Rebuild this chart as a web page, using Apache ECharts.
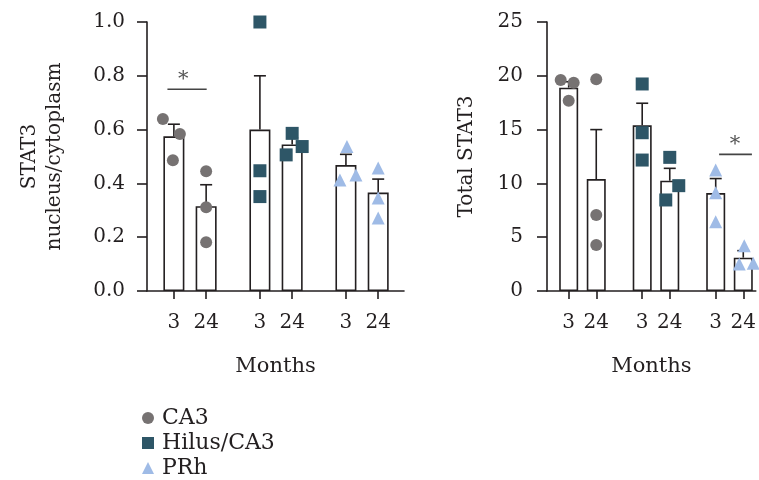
<!DOCTYPE html>
<html>
<head>
<meta charset="utf-8">
<script src="https://cdn.jsdelivr.net/npm/echarts@6/dist/echarts.min.js"></script>
<style>
html, body { margin: 0; padding: 0; background: #fff; }
#chart { width: 759px; height: 480px; }
</style>
</head>
<body>
<div id="chart"></div>
<script>
const groups = ['CA3', 'Hilus/CA3', 'PRh'];
const months = ['3', '24'];

// bar order: CA3 3, CA3 24, Hilus 3, Hilus 24, PRh 3, PRh 24
const ratioMean = [0.575, 0.315, 0.60, 0.545, 0.468, 0.366];
const ratioSem = [0.045, 0.08, 0.20, 0.025, 0.04, 0.05];
const ratioPoints = [
	[0.639, 0.584, 0.486],
	[0.445, 0.311, 0.181],
	[1.0, 0.447, 0.351],
	[0.586, 0.506, 0.537],
	[0.537, 0.413, 0.431],
	[0.457, 0.346, 0.271],
];

const totalMean = [18.9, 10.4, 15.4, 10.25, 9.1, 3.1];
const totalSem = [0.55, 4.6, 2.05, 1.15, 1.35, 0.65];
const totalPoints = [
	[19.61, 19.36, 17.69],
	[19.67, 7.06, 4.27],
	[19.24, 14.71, 12.17],
	[12.42, 8.46, 9.79],
	[11.25, 9.14, 6.44],
	[4.21, 2.51, 2.57],
];

// significance bracket: x range (axis units), line level, star position
const ratioSig = { x: [-0.6, 3.05], y: 0.75, star: [0.87, 0.80] };
const totalSig = { x: [16.37, 19.94], y: 12.7, star: [18.1, 14.0] };

// point spread around bar centre, px
const ratioJitter = [[-11, 6, -1], [0, 0, 0], [0, 0, 0], [0, -6, 10], [1, -6, 10], [0, 0, 0]];
const totalJitter = [[-8, 5, 0], [0, 0, 0], [0, 0, 0], [0, -4, 9], [0, 0, 0], [1, -4, 10]];

const INK = '#231f20';
const FONT = 'DejaVu Serif';
const colors = ['#767272', '#2e5667', '#9fbbe6'];
const symbols = ['circle', 'rect', 'triangle'];
const symbolSizes = [12, 13, 13];

const barPos = [0, 1, 2, 3, 4, 5].map((i) => Math.floor(i / 2) * 8 + (i % 2) * 3);

function monthLabel(v) {
	const i = barPos.findIndex((p) => Math.abs(p - v) < 1e-6);
	return i < 0 ? '' : months[i % 2];
}

function errorBarItem(params, api) {
	const a = api.coord([api.value(0), api.value(1)]);
	const b = api.coord([api.value(0), api.value(2)]);
	const style = { stroke: INK, lineWidth: 1.6, fill: null };
	return {
		type: 'group',
		children: [
			{ type: 'line', shape: { x1: a[0], y1: a[1], x2: b[0], y2: b[1] }, style },
			{ type: 'line', shape: { x1: b[0] - 6, y1: b[1], x2: b[0] + 6, y2: b[1] }, style },
		],
	};
}

function sigItem(params, api) {
	const p1 = api.coord([api.value(0), api.value(2)]);
	const p2 = api.coord([api.value(1), api.value(2)]);
	const s = api.coord([api.value(3), api.value(4)]);
	return {
		type: 'group',
		children: [
			{ type: 'line', shape: { x1: p1[0], y1: p1[1], x2: p2[0], y2: p2[1] }, style: { stroke: '#444', lineWidth: 1.6 } },
			{ type: 'text', x: s[0], y: s[1] + 4, style: { text: '*', font: '21px ' + FONT, fill: '#555', align: 'center', verticalAlign: 'middle' } },
		],
	};
}

function panelSeries(idx, mean, sem, points, jitter, sig, barWidth) {
	const out = [];
	out.push({
		type: 'bar',
		xAxisIndex: idx,
		yAxisIndex: idx,
		barWidth,
		data: mean.map((m, i) => [barPos[i], m]),
		itemStyle: { color: '#fff', borderColor: INK, borderWidth: 1.6 },
		z: 2,
		silent: true,
	});
	out.push({
		type: 'custom',
		xAxisIndex: idx,
		yAxisIndex: idx,
		renderItem: errorBarItem,
		data: mean.map((m, i) => [barPos[i], m, m + sem[i]]),
		z: 3,
		silent: true,
	});
	groups.forEach((g, gi) => {
		const data = [];
		for (let m = 0; m < 2; m++) {
			const i = gi * 2 + m;
			points[i].forEach((v, k) => {
				data.push({ value: [barPos[i], v], symbolOffset: [jitter[i][k], 0] });
			});
		}
		out.push({
			type: 'scatter',
			name: g,
			xAxisIndex: idx,
			yAxisIndex: idx,
			symbol: symbols[gi],
			symbolSize: symbolSizes[gi],
			itemStyle: { color: colors[gi], opacity: 1 },
			data,
			z: 4,
			silent: true,
		});
	});
	out.push({
		type: 'custom',
		xAxisIndex: idx,
		yAxisIndex: idx,
		renderItem: sigItem,
		data: [[sig.x[0], sig.x[1], sig.y, sig.star[0], sig.star[1]]],
		z: 5,
		silent: true,
	});
	return out;
}

function xAxisFor(idx, min, max) {
	return {
		gridIndex: idx,
		type: 'value',
		min,
		max,
		name: 'Months',
		nameLocation: 'middle',
		nameGap: 65,
		nameTextStyle: { color: INK, fontFamily: FONT, fontSize: 21 },
		splitLine: { show: false },
		axisLine: { show: true, onZero: false, lineStyle: { color: INK, width: 1.6 } },
		axisTick: { show: true, length: 8, customValues: barPos, lineStyle: { color: INK, width: 1.6 } },
		axisLabel: { customValues: barPos, formatter: monthLabel, color: INK, fontFamily: FONT, fontSize: 20, margin: 22 },
	};
}

function yAxisFor(idx, max, interval, name, nameGap, fmt, margin) {
	return {
		gridIndex: idx,
		type: 'value',
		min: 0,
		max,
		interval,
		name,
		nameLocation: 'middle',
		nameGap,
		nameRotate: 90,
		nameTextStyle: { color: INK, fontFamily: FONT, fontSize: 20, lineHeight: 25 },
		splitLine: { show: false },
		axisLine: { show: true, onZero: false, lineStyle: { color: INK, width: 1.6 } },
		axisTick: { show: true, length: 10, lineStyle: { color: INK, width: 1.6 } },
		axisLabel: { formatter: fmt, color: INK, fontFamily: FONT, fontSize: 20, margin },
	};
}

const chart = echarts.init(document.getElementById('chart'));
chart.setOption({
	animation: false,
	backgroundColor: '#fff',
	grid: [
		{ left: 147, right: 355, top: 22, bottom: 189 },
		{ left: 547, right: 0, top: 22, bottom: 189 },
	],
	xAxis: [xAxisFor(0, -2.5, 21.4), xAxisFor(1, -2.36, 20.36)],
	yAxis: [
		yAxisFor(0, 1, 0.2, 'STAT3\nnucleus/cytoplasm', 80, (v) => v.toFixed(1), 22),
		yAxisFor(1, 25, 5, 'Total STAT3', 68, (v) => String(v), 24),
	],
	legend: {
		orient: 'vertical',
		left: 137,
		top: 402,
		height: 90,
		itemWidth: 12,
		itemHeight: 12,
		itemGap: 3,
		textStyle: { color: INK, fontFamily: FONT, fontSize: 22, lineHeight: 21, padding: [0, 0, 0, 3] },
		data: groups.map((g, gi) => ({ name: g, icon: symbols[gi] })),
	},
	series: [
		...panelSeries(0, ratioMean, ratioSem, ratioPoints, ratioJitter, ratioSig, 21),
		...panelSeries(1, totalMean, totalSem, totalPoints, totalJitter, totalSig, 19),
	],
});
</script>
</body>
</html>
